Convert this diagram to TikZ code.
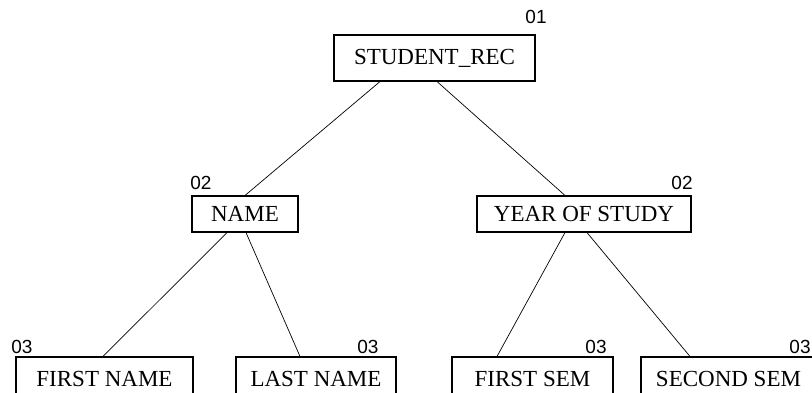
\documentclass[tikz,border=0pt]{standalone}
\usepackage{fontspec}
\setmainfont{Liberation Serif}
\newfontfamily\levelfont{Liberation Sans}
\usepackage{tikz}
\usetikzlibrary{positioning}

\begin{document}
\begin{tikzpicture}[
    x=1pt, y=-1pt,
    box/.style={rectangle, draw, line width=1.1pt, minimum height=36pt, inner sep=0pt, font=\fontsize{23}{26}\selectfont},
    level/.style={inner sep=0pt, font=\levelfont\fontsize{19}{21}\selectfont},
    link/.style={line width=0.7pt}
]
\useasboundingbox (0,0) rectangle (812,392);

% Row 1
\node[box, minimum width=201pt, minimum height=46pt] (rec) at (434.5,58) {STUDENT\_REC};

% Row 2
\node[box, minimum width=106pt] (name) at (245,214) {NAME};
\node[box, minimum width=214pt] (year) at (584,214) {YEAR OF STUDY};

% Row 3
\node[box, minimum width=177pt, minimum height=44pt] (first) at (104.5,379) {FIRST NAME};
\node[box, minimum width=160pt, minimum height=44pt] (last) at (316,379) {LAST NAME};
\node[box, minimum width=161pt, minimum height=44pt] (firstsem) at (532.5,379) {FIRST SEM};
\node[box, minimum width=175pt, minimum height=44pt] (secondsem) at (728.5,379) {SECOND SEM};

% Links
\draw[link] ([xshift=-54.5pt]rec.south) -- (name.north);
\draw[link] ([xshift=2.5pt]rec.south) -- ([xshift=-19pt]year.north);
\draw[link] ([xshift=-18pt]name.south) -- ([xshift=-1.5pt]first.north);
\draw[link] ([xshift=1pt]name.south) -- ([xshift=-16pt]last.north);
\draw[link] ([xshift=-19pt]year.south) -- ([xshift=-35.5pt]firstsem.north);
\draw[link] ([xshift=3pt]year.south) -- ([xshift=-38.5pt]secondsem.north);

% Level numbers
\node[level] (l1) at (536,17) {01};
\node[level] (l2a) at (201,183) {02};
\node[level] (l2b) at (682,183) {02};
\node[level] (l3a) at (22,347) {03};
\node[level] (l3b) at (368,347) {03};
\node[level] (l3c) at (596,347) {03};
\node[level] (l3d) at (800,347) {03};

\end{tikzpicture}
\end{document}
